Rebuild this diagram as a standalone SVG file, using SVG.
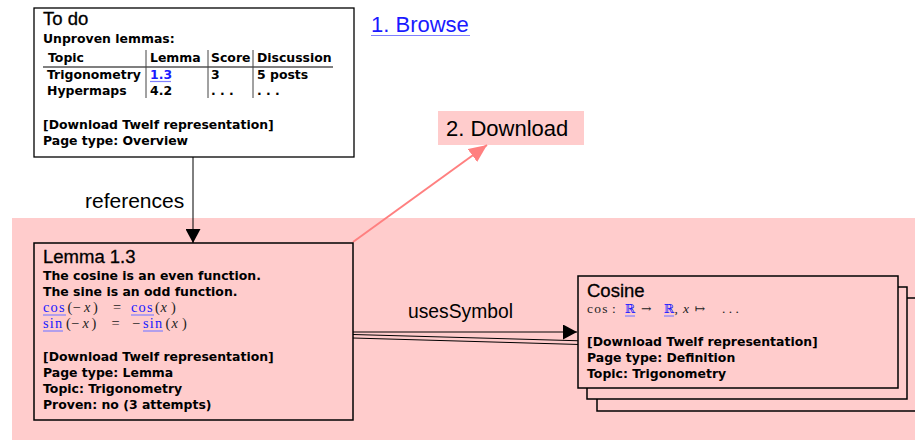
<svg xmlns="http://www.w3.org/2000/svg" width="915" height="441" viewBox="0 0 915 441">
  <style>
    .title { font-family: "Liberation Sans", Arial, sans-serif; font-size: 18.5px; fill: #000; stroke: #000; stroke-width: 0.3; }
    .b { font-family: "DejaVu Sans", sans-serif; font-weight: bold; font-size: 12.45px; fill: #000; }
    .lbl { font-family: "Liberation Sans", Arial, sans-serif; fill: #000; }
    .m { font-family: "Liberation Serif", "DejaVu Serif", serif; font-size: 14.4px; fill: #222; }
    .ms { font-family: "Liberation Serif", "DejaVu Serif", serif; font-size: 13.5px; fill: #222; }
    .fn { letter-spacing: 1.2px; }
    .sym { font-family: "DejaVu Serif", serif; font-size: 12.5px; }
    .it { font-style: italic; }
    .link { fill: #1a1aff; }
    .ul { stroke: #7f7fff; stroke-width: 1.2; }
    .box { fill: #fff; stroke: #000; stroke-width: 1.3; }
    .card { fill: #ffcccc; stroke: #000; stroke-width: 1.5; }
    .sep { stroke: #444; stroke-width: 1; }
    .edge { stroke: #000; stroke-width: 1; fill: none; }
  </style>
  <defs>
    <marker id="ah" markerUnits="userSpaceOnUse" markerWidth="14" markerHeight="15" refX="14" refY="7.5" orient="auto">
      <path d="M0,0 L14,7.5 L0,15 z" fill="#000"/>
    </marker>
    <marker id="ah-pink" markerUnits="userSpaceOnUse" markerWidth="18" markerHeight="16" refX="18" refY="8" orient="auto">
      <path d="M0,0 L18,8 L0,16 z" fill="#ff8080"/>
    </marker>
  </defs>

  <!-- shaded area for the download step -->
  <rect x="12" y="218" width="903" height="222" fill="#ffcccc"/>

  <!-- step labels -->
  <g id="browse">
    <text class="lbl link" x="371" y="32" font-size="22">1. Browse</text>
    <line class="ul" x1="371" y1="35.5" x2="470" y2="35.5" stroke-width="1.5"/>
  </g>
  <g id="download">
    <rect x="438" y="111" width="146" height="34" fill="#ffcccc"/>
    <text class="lbl" x="446" y="136" font-size="22">2. Download</text>
  </g>

  <!-- connectors -->
  <g id="connectors">
    <line class="edge" x1="193" y1="157" x2="193" y2="243" marker-end="url(#ah)"/>
    <text class="lbl" x="85" y="208" font-size="21">references</text>
    <line x1="353" y1="242" x2="487" y2="145" stroke="#ff8080" stroke-width="2" marker-end="url(#ah-pink)"/>
    <line class="edge" x1="353" y1="338" x2="597" y2="345"/>
    <line class="edge" x1="353" y1="334.5" x2="587" y2="341"/>
    <line class="edge" x1="353" y1="332" x2="577" y2="332" marker-end="url(#ah)"/>
    <text class="lbl" x="408" y="318" font-size="19.3">usesSymbol</text>
  </g>

  <!-- overview page -->
  <g id="todo">
    <rect class="box" x="34" y="8" width="320" height="149"/>
    <text class="title" x="43" y="25">To do</text>
    <text class="b" x="43" y="43">Unproven lemmas:</text>
    <text class="b" x="48" y="62">Topic</text>
    <text class="b" x="150" y="62">Lemma</text>
    <text class="b" x="211" y="62">Score</text>
    <text class="b" x="257" y="62">Discussion</text>
    <line x1="43" y1="67" x2="333" y2="67" stroke="#555" stroke-width="1.5"/>
    <line class="sep" x1="146" y1="50" x2="146" y2="98"/>
    <line class="sep" x1="208" y1="50" x2="208" y2="98"/>
    <line class="sep" x1="253" y1="50" x2="253" y2="98"/>
    <text class="b" x="47" y="79">Trigonometry</text>
    <text class="b link" x="150" y="79">1.3</text>
    <line class="ul" x1="150" y1="81.5" x2="171" y2="81.5"/>
    <text class="b" x="211" y="79">3</text>
    <text class="b" x="257" y="79">5 posts</text>
    <text class="b" x="47" y="95">Hypermaps</text>
    <text class="b" x="150" y="95">4.2</text>
    <text class="b" x="211" y="95" font-weight="normal">. . .</text>
    <text class="b" x="257" y="95" font-weight="normal">. . .</text>
    <text class="b" x="43" y="129">[Download Twelf representation]</text>
    <text class="b" x="43" y="145">Page type: Overview</text>
  </g>

  <!-- lemma page -->
  <g id="lemma">
    <rect class="card" x="34" y="243" width="319" height="177"/>
    <text class="title" x="43" y="263">Lemma 1.3</text>
    <text class="b" x="43" y="280">The cosine is an even function.</text>
    <text class="b" x="43" y="296">The sine is an odd function.</text>
    <text class="m" y="312"><tspan class="link fn" x="43">cos</tspan><tspan x="67.5">(</tspan><tspan x="72.5">−</tspan><tspan class="it" x="84">x</tspan><tspan x="93">)</tspan><tspan x="113">=</tspan><tspan class="link fn" x="131">cos</tspan><tspan x="155">(</tspan><tspan class="it" x="160.5">x</tspan><tspan x="171">)</tspan></text>
    <line class="ul" x1="43" y1="315" x2="66" y2="315"/>
    <line class="ul" x1="131" y1="315" x2="154" y2="315"/>
    <text class="m" y="328"><tspan class="link fn" x="43">sin</tspan><tspan x="66">(</tspan><tspan x="71">−</tspan><tspan class="it" x="82.5">x</tspan><tspan x="91.5">)</tspan><tspan x="111.5">=</tspan><tspan x="132">−</tspan><tspan class="link fn" x="143">sin</tspan><tspan x="165.5">(</tspan><tspan class="it" x="171.5">x</tspan><tspan x="182">)</tspan></text>
    <line class="ul" x1="43" y1="331" x2="63" y2="331"/>
    <line class="ul" x1="143" y1="331" x2="163" y2="331"/>
    <text class="b" x="43" y="361">[Download Twelf representation]</text>
    <text class="b" x="43" y="377">Page type: Lemma</text>
    <text class="b" x="43" y="393">Topic: Trigonometry</text>
    <text class="b" x="43" y="409">Proven: no (3 attempts)</text>
  </g>

  <!-- definition page stack -->
  <g id="cosine">
    <rect class="card" x="597" y="298" width="330" height="113"/>
    <rect class="card" x="587" y="287" width="320" height="112"/>
    <rect class="card" x="578" y="276" width="320" height="112"/>
    <text class="title" x="587" y="297">Cosine</text>
    <text class="ms" y="313"><tspan class="fn" x="587">cos</tspan><tspan x="612">:</tspan><tspan class="link sym" x="625">ℝ</tspan><tspan class="sym" x="641">→</tspan><tspan class="link sym" x="664">ℝ</tspan><tspan x="674.5">,</tspan><tspan class="it" x="683">x</tspan><tspan class="sym" x="694.5">↦</tspan><tspan x="722">. . .</tspan></text>
    <line class="ul" x1="625" y1="316" x2="635" y2="316"/>
    <line class="ul" x1="664" y1="316" x2="674" y2="316"/>
    <text class="b" x="587" y="346">[Download Twelf representation]</text>
    <text class="b" x="587" y="362">Page type: Definition</text>
    <text class="b" x="587" y="378">Topic: Trigonometry</text>
  </g>
</svg>
